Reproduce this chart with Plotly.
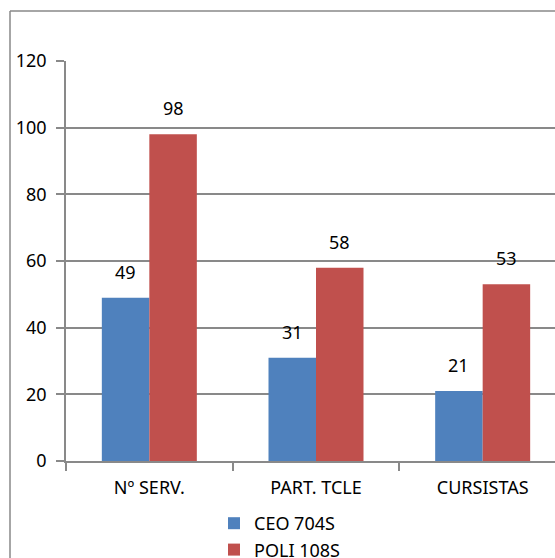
import plotly.graph_objects as go

categories = ["Nº SERV.", "PART. TCLE", "CURSISTAS"]
ceo_values = [49, 31, 21]
poli_values = [98, 58, 53]
series_names = ["CEO 704S", "POLI 108S"]
y_ticks = [0, 20, 40, 60, 80, 100, 120]

BLUE = "#4F81BD"
RED = "#C0504D"
GRID = "#898989"
FONT = "Noto Sans"
FS = 18

W, H = 555, 558
ML, MR, MT, MB = 66, 0, 61, 97
x_range = [-0.5, 2.434]
bargap = 0.43

fig = go.Figure()
fig.add_trace(go.Bar(x=categories, y=ceo_values, name=series_names[0],
                     marker=dict(color=BLUE, line=dict(width=0))))
fig.add_trace(go.Bar(x=categories, y=poli_values, name=series_names[1],
                     marker=dict(color=RED, line=dict(width=0))))

# data labels above bars
plot_w = W - ML - MR
cat_px = plot_w / (x_range[1] - x_range[0])
bar_px = cat_px * (1 - bargap) / 2
annotations = []
for vals, sh in ((ceo_values, -bar_px / 2), (poli_values, bar_px / 2)):
    for c, v in zip(categories, vals):
        annotations.append(dict(x=c, y=v, text=str(v), showarrow=False,
                                xshift=sh, yshift=12, yanchor="bottom",
                                font=dict(size=FS, color="#000000", family=FONT)))

plot_h = H - MT - MB
def px_to_paper_x(px):
    return (px - ML) / plot_w
def px_to_paper_y(py):
    return (H - MB - py) / plot_h

shapes = [
    dict(type="line", xref="paper", yref="paper",
         x0=px_to_paper_x(10), x1=px_to_paper_x(560),
         y0=px_to_paper_y(11), y1=px_to_paper_y(11),
         line=dict(color=GRID, width=1.5)),
    dict(type="line", xref="paper", yref="paper",
         x0=px_to_paper_x(10), x1=px_to_paper_x(10),
         y0=px_to_paper_y(11), y1=px_to_paper_y(570),
         line=dict(color=GRID, width=1.5)),
]

fig.update_layout(
    width=W, height=H,
    margin=dict(l=ML, r=MR, t=MT, b=MB, autoexpand=False),
    paper_bgcolor="white", plot_bgcolor="white",
    barmode="group", bargap=bargap, bargroupgap=0,
    font=dict(family=FONT, size=FS, color="#000000"),
    showlegend=True,
    legend=dict(orientation="v", x=px_to_paper_x(214), xanchor="left",
                y=px_to_paper_y(505), yanchor="top",
                font=dict(size=FS, family=FONT), tracegroupgap=0,
                itemwidth=30, bgcolor="rgba(0,0,0,0)"),
    annotations=annotations,
    shapes=shapes,
)
fig.update_xaxes(range=x_range, showgrid=False, showline=True, linecolor=GRID,
                 linewidth=1.5, ticks="outside", tickson="boundaries",
                 ticklen=8, tickcolor=GRID, tickwidth=1.5,
                 tickfont=dict(size=FS, family=FONT), zeroline=False,
                 ticklabelstandoff=10)
fig.update_yaxes(range=[0, 120], tickvals=y_ticks, showgrid=True,
                 gridcolor=GRID, gridwidth=1.5, showline=True, linecolor=GRID,
                 linewidth=1.5, ticks="outside", ticklen=8, tickcolor=GRID,
                 tickwidth=1.5, tickfont=dict(size=FS, family=FONT),
                 zeroline=False, ticklabelstandoff=6)

fig.write_html("out.html")
